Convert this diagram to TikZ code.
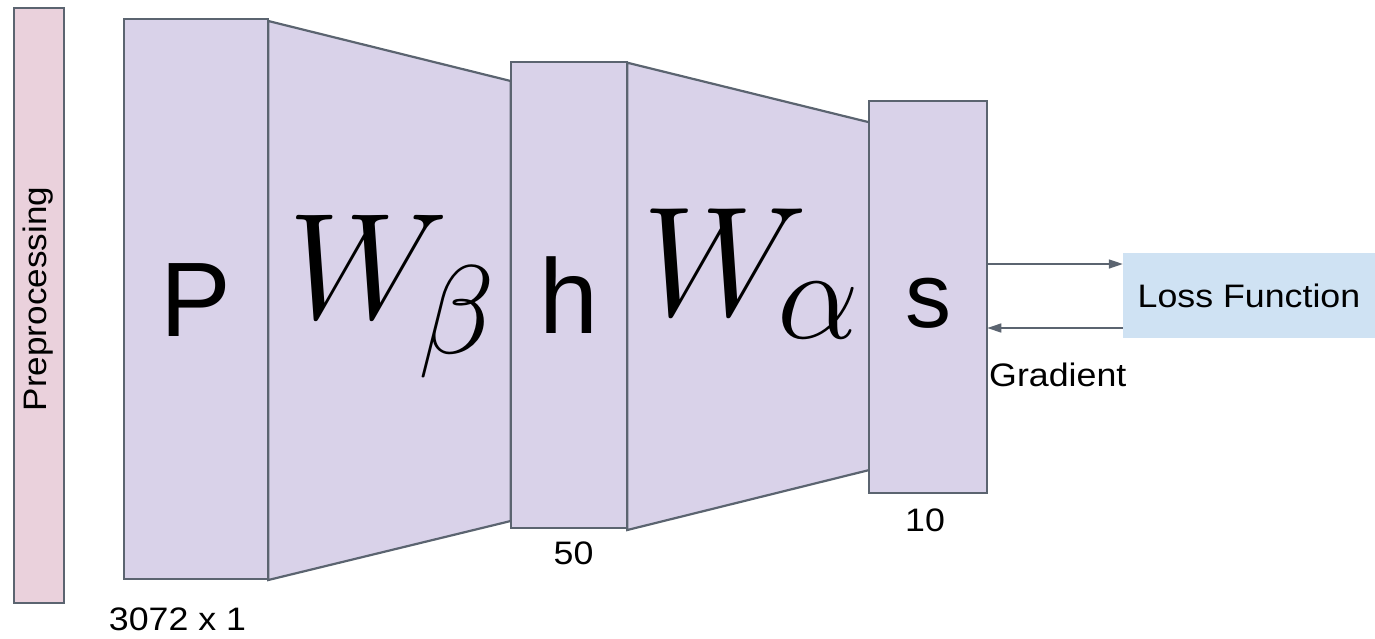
\documentclass[tikz,border=0pt]{standalone}
\usepackage{fontspec}
\usepackage{graphicx}
\newfontfamily\arialf{Liberation Sans}
\usetikzlibrary{arrows.meta}
\definecolor{lilac}{HTML}{D9D2E9}
\definecolor{rose}{HTML}{EAD1DC}
\definecolor{skyb}{HTML}{CFE2F3}
\definecolor{edgec}{HTML}{5B6470}
\newcommand\wide[2][1.1]{\scalebox{#1}[1]{#2}}
\begin{document}
\begin{tikzpicture}[x=1pt,y=-1pt,
  shapeline/.style={draw=edgec, fill=lilac, line width=2.2pt, line join=miter},
  box/.style={shapeline, inner sep=0pt, outer sep=0pt, text depth=0pt},
  big/.style={font=\arialf\fontsize{106}{110}\selectfont},
  lbl/.style={font=\arialf\fontsize{32.5}{39}\selectfont, inner sep=0pt},
  arr/.style={draw=edgec, line width=1.6pt, -{Triangle[length=14pt,width=9pt]}}]
\useasboundingbox (0,0) rectangle (1375,638);
% weight layers
\draw[shapeline] (268.3,21) -- (510.7,81) -- (510.7,521) -- (268.3,580) -- cycle;
\draw[shapeline] (627.3,62.7) -- (869.3,122.3) -- (869.3,470) -- (627.3,530) -- cycle;
% preprocessing bar
\node[box, fill=rose, minimum width=50pt, minimum height=594.4pt] (pre) at (39,305.5) {};
\node[lbl, rotate=90, anchor=base] (pretxt) at (46.5,299) {\wide[1.08]{Preprocessing}};
% activation boxes
\node[box, big, minimum width=144.3pt, minimum height=559.7pt, text height=75.6pt] (P) at (196.2,298.9) {P};
\node[box, big, minimum width=116.6pt, minimum height=466pt, text height=76pt] (h) at (569,295.3) {h};
\node[box, font=\arialf\fontsize{92}{96}\selectfont, minimum width=118pt, minimum height=392.6pt, text height=60.6pt] (s) at (928.3,297) {s};
% weights
\node[anchor=base west, inner sep=0pt] (wb) at (288,318.3) {\scalebox{6.07}{\Huge$W_{\kern-1.6pt\beta}$}};
\node[anchor=base west, inner sep=0pt] (wa) at (642,315) {\scalebox{6.27}{\Huge$W_{\kern-1.4pt\alpha}$}};
% dimensions
\node[lbl, anchor=base] (dimP) at (177.5,630.7) {\wide{3072 x 1}};
\node[lbl, anchor=base] (dimh) at (573.5,564.3) {\wide{50}};
\node[lbl, anchor=base] (dims) at (925,531.7) {\wide{10}};
% loss
\node[lbl, fill=skyb, minimum width=252pt, minimum height=84.4pt] (loss) at (1249,295.5) {\wide{Loss Function}};
\coordinate (ya) at (0,264);
\coordinate (yb) at (0,328);
\draw[arr] (s.east |- ya) -- (loss.west |- ya);
\draw[arr] (loss.west |- yb) -- (s.east |- yb);
\node[lbl, anchor=base west] (grad) at (989,386) {\wide{Gradient}};
\end{tikzpicture}
\end{document}
